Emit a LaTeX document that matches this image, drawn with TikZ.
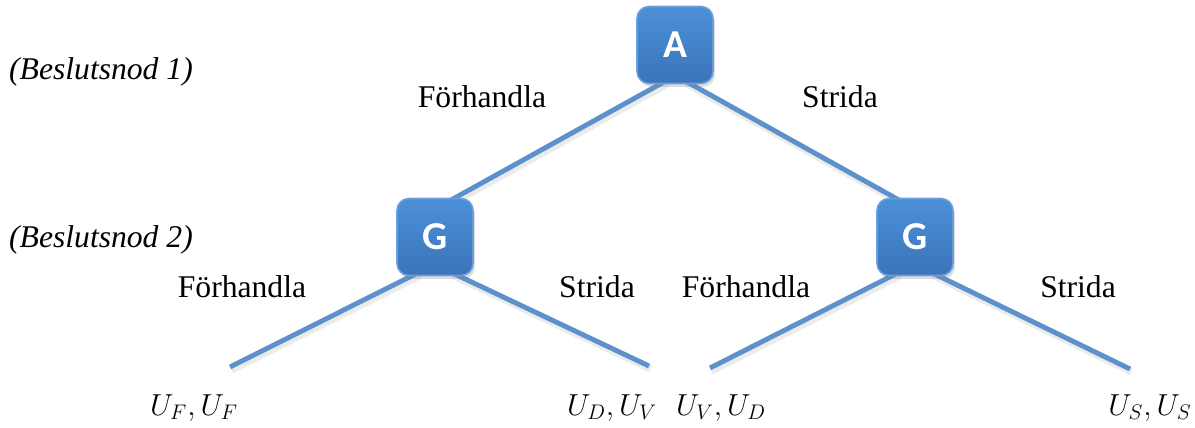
\documentclass[tikz,border=0pt]{standalone}
\usepackage{fontspec}
\setmainfont{Liberation Serif}
\newfontfamily\boxfont{Carlito}
\usetikzlibrary{calc}
\usetikzlibrary{shadows}
\usetikzlibrary{backgrounds}

\definecolor{boxtop}{HTML}{4C90D8}
\definecolor{boxbot}{HTML}{3A74BA}
\definecolor{boxedge}{HTML}{6C9FD9}
\definecolor{branchcol}{HTML}{5C91CC}

\tikzset{
  player/.style={draw=boxedge, line width=0.9pt, rounded corners=0.24cm,
    top color=boxtop, bottom color=boxbot,
    minimum width=1.52cm, minimum height=1.54cm, inner sep=0pt,
    text=white, font=\boxfont\bfseries\fontsize{22.5}{26}\selectfont,
    drop shadow={opacity=0.25, shadow xshift=0.04cm, shadow yshift=-0.07cm}},
  branch/.style={draw=branchcol, line width=2.8pt,
    preaction={draw=black, opacity=0.08, line width=4pt, transform canvas={xshift=0.03cm, yshift=-0.06cm}}},
  move/.style={font=\fontsize{18}{22}\selectfont},
  level/.style={font=\itshape\fontsize{18}{22}\selectfont, anchor=west},
  payoff/.style={font=\fontsize{18}{22}\selectfont}
}

\begin{document}
\begin{tikzpicture}[x=0.02cm, y=-0.02cm]
  \useasboundingbox (0,0) rectangle (1195,428);

  \node[player] (A) at (675,45) {A};
  \node[player] (G1) at (435,237) {G};
  \node[player] (G2) at (915,237) {G};

  \coordinate (l1) at (230,367);
  \coordinate (l2) at (649,366);
  \coordinate (l3) at (710,368);
  \coordinate (l4) at (1130,369);

  \begin{scope}[on background layer]
    \draw[branch] ($(A.south)+(-8,-4)$) -- ($(G1.north)+(13,4)$);
    \draw[branch] ($(A.south)+(9,-4)$) -- ($(G2.north)+(-13,4)$);
    \draw[branch] ($(G1.south)+(-16,-4)$) -- (l1);
    \draw[branch] ($(G1.south)+(16,-4)$) -- (l2);
    \draw[branch] ($(G2.south)+(-16,-4)$) -- (l3);
    \draw[branch] ($(G2.south)+(16,-4)$) -- (l4);
  \end{scope}

  \node[level] (lev1) at (3,72) {(Beslutsnod 1)};
  \node[level] (lev2) at (3,240) {(Beslutsnod 2)};

  \node[move] (fA) at (482,97) {Förhandla};
  \node[move] (sA) at (840,97) {Strida};
  \node[move] (f1) at (242,287) {Förhandla};
  \node[move] (s1) at (597,287) {Strida};
  \node[move] (f2) at (746,287) {Förhandla};
  \node[move] (s2) at (1078,287) {Strida};

  \node[payoff] (u1) at (194,408) {$U_F, U_F$};
  \node[payoff] (u2) at (612,408) {$U_D, U_V$};
  \node[payoff] (u3) at (721,408) {$U_V, U_D$};
  \node[payoff] (u4) at (1150,408) {$U_S, U_S$};
\end{tikzpicture}
\end{document}
